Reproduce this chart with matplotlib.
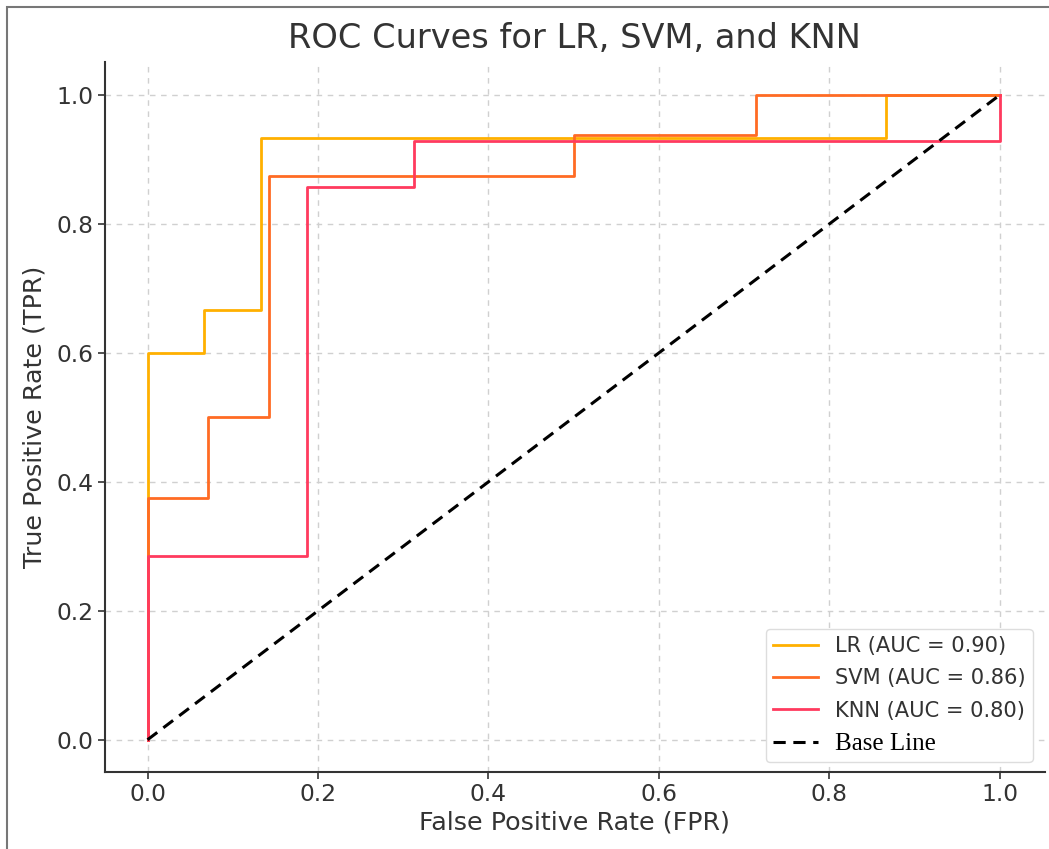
import matplotlib
matplotlib.use("Agg")
import matplotlib.pyplot as plt
from matplotlib.patches import Rectangle

# ---- data ----
lr_fpr = [0.0, 0.0, 0.0667, 0.0667, 0.1333, 0.1333, 0.8667, 0.8667, 1.0]
lr_tpr = [0.0, 0.6, 0.6, 0.6667, 0.6667, 0.9333, 0.9333, 1.0, 1.0]

svm_fpr = [0.0, 0.0, 0.0714, 0.0714, 0.1429, 0.1429, 0.5, 0.5, 0.7143, 0.7143, 1.0]
svm_tpr = [0.0, 0.375, 0.375, 0.5, 0.5, 0.875, 0.875, 0.9375, 0.9375, 1.0, 1.0]

knn_fpr = [0.0, 0.0, 0.1875, 0.1875, 0.3125, 0.3125, 1.0, 1.0]
knn_tpr = [0.0, 0.2857, 0.2857, 0.8571, 0.8571, 0.9286, 0.9286, 1.0]

base_x = [0.0, 1.0]
base_y = [0.0, 1.0]

labels = ["LR (AUC = 0.90)", "SVM (AUC = 0.86)", "KNN (AUC = 0.80)"]
colors = ["#FFB000", "#FF6B24", "#FF3A5E"]
x_ticks = [0.0, 0.2, 0.4, 0.6, 0.8, 1.0]
y_ticks = [0.0, 0.2, 0.4, 0.6, 0.8, 1.0]

TXT = "#333333"

fig = plt.figure(figsize=(10.49, 8.49), dpi=100)
ax = fig.add_axes([0.100, 0.0907, 0.896, 0.836])

ax.grid(True, linestyle=(0, (4, 4)), color="#d0d0d0", linewidth=1.0, zorder=0)
ax.set_axisbelow(True)

for fx, ty, lab, col in zip([lr_fpr, svm_fpr, knn_fpr], [lr_tpr, svm_tpr, knn_tpr], labels, colors):
    ax.plot(fx, ty, color=col, linewidth=2.0, label=lab, zorder=3)
ax.plot(base_x, base_y, color="black", linestyle=(0, (4, 2.5)), linewidth=2.2, label="Base Line", zorder=4)

ax.set_xlim(-0.05, 1.053)
ax.set_ylim(-0.05, 1.051)
ax.set_xticks(x_ticks)
ax.set_yticks(y_ticks)

for s in ["top", "right"]:
    ax.spines[s].set_visible(False)
for s in ["left", "bottom"]:
    ax.spines[s].set_color("#333333")
    ax.spines[s].set_linewidth(1.5)

ax.tick_params(axis="both", direction="out", length=5, width=1.2, color="#333333",
               labelsize=16.8, labelcolor=TXT, pad=3)

ax.set_title("ROC Curves for LR, SVM, and KNN", fontsize=24.2, color=TXT, pad=10)
ax.set_xlabel("False Positive Rate (FPR)", fontsize=18.3, color=TXT, labelpad=3)
ax.set_ylabel("True Positive Rate (TPR)", fontsize=18.3, color=TXT, labelpad=7)

leg = ax.legend(loc="lower right", fontsize=15.1, frameon=True, fancybox=True,
                framealpha=1.0, edgecolor="#dddddd", handlelength=2.16,
                borderpad=0.35, labelspacing=0.58, handletextpad=0.77,
                borderaxespad=0.0, bbox_to_anchor=(0.987, 0.014))
for t in leg.get_texts():
    t.set_color(TXT)
bt = leg.get_texts()[3]
bt.set_family(["Liberation Serif", "DejaVu Serif"])
bt.set_fontsize(18)
bt.set_color("black")

# screenshot border (top and left visible)
fig.patches.append(Rectangle((7, -20), 1080, 849 + 20 - 7, transform=None,
                             fill=False, edgecolor="#777777", linewidth=1.5))

fig.savefig("out.png", dpi=100)
